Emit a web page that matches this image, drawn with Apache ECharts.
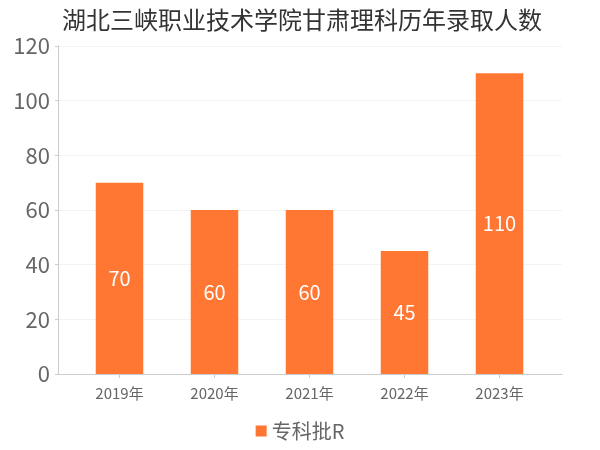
<!DOCTYPE html>
<html><head><meta charset="utf-8">
<script src="https://cdn.jsdelivr.net/npm/echarts@6/dist/echarts.min.js"></script>
<style>html,body{margin:0;padding:0;background:#fff}#c{width:600px;height:450px}</style>
</head><body><div id="c"></div>
<script>
const titleText = '湖北三峡职业技术学院甘肃理科历年录取人数';
const categories = ['2019年','2020年','2021年','2022年','2023年'];
const seriesName = '专科批R';
const values = [70, 60, 60, 45, 110];
const yMin = 0, yMax = 120, yStep = 20;

const chart = echarts.init(document.getElementById('c'));
const font = "'Noto Sans CJK SC', 'Noto Sans', sans-serif";
chart.setOption({
  animation: false,
  textStyle: {fontFamily: font},
  title: {text: titleText, left: 57, top: 3, textStyle: {fontSize: 24, fontWeight: 'normal', color: '#333', fontFamily: font}},
  legend: {bottom: 4, left: 'center', itemWidth: 11, itemHeight: 11, icon: 'rect', itemGap: 4,
    textStyle: {fontSize: 20, color: '#666', fontFamily: font}, data: [seriesName]},
  grid: [
    {left: 72, right: 53, top: 46, bottom: 76},
    {left: 58, right: 38, top: 46, bottom: 76}
  ],
  xAxis: [
    {type: 'category', data: categories, gridIndex: 0, boundaryGap: true, offset: 4,
      axisLine: {show: false}, axisTick: {show: true, alignWithLabel: true, length: 4, lineStyle: {color: '#ccc'}},
      axisLabel: {fontSize: 15, color: '#666', margin: 8, fontFamily: font}},
    {type: 'value', gridIndex: 1, offset: 4, min: 0, max: 1,
      axisLine: {show: true, lineStyle: {color: '#ccc'}}, axisTick: {show: false}, axisLabel: {show: false}, splitLine: {show: false}}
  ],
  yAxis: [
    {type: 'value', gridIndex: 0, min: yMin, max: yMax, interval: yStep, show: false},
    {type: 'value', gridIndex: 1, min: yMin, max: yMax, interval: yStep, offset: 3,
      axisLine: {show: true, lineStyle: {color: '#ccc'}}, axisTick: {show: true, length: 3, lineStyle: {color: '#ccc'}},
      axisLabel: {fontSize: 22, color: '#666', margin: 5, fontFamily: font},
      splitLine: {lineStyle: {color: '#f3f3f3'}}}
  ],
  series: [{name: seriesName, type: 'bar', data: values, barWidth: '50%', xAxisIndex: 0, yAxisIndex: 0,
    itemStyle: {color: '#ff7733'},
    label: {show: true, position: 'inside', color: '#fff', fontSize: 20, fontFamily: font}}]
});
</script></body></html>
